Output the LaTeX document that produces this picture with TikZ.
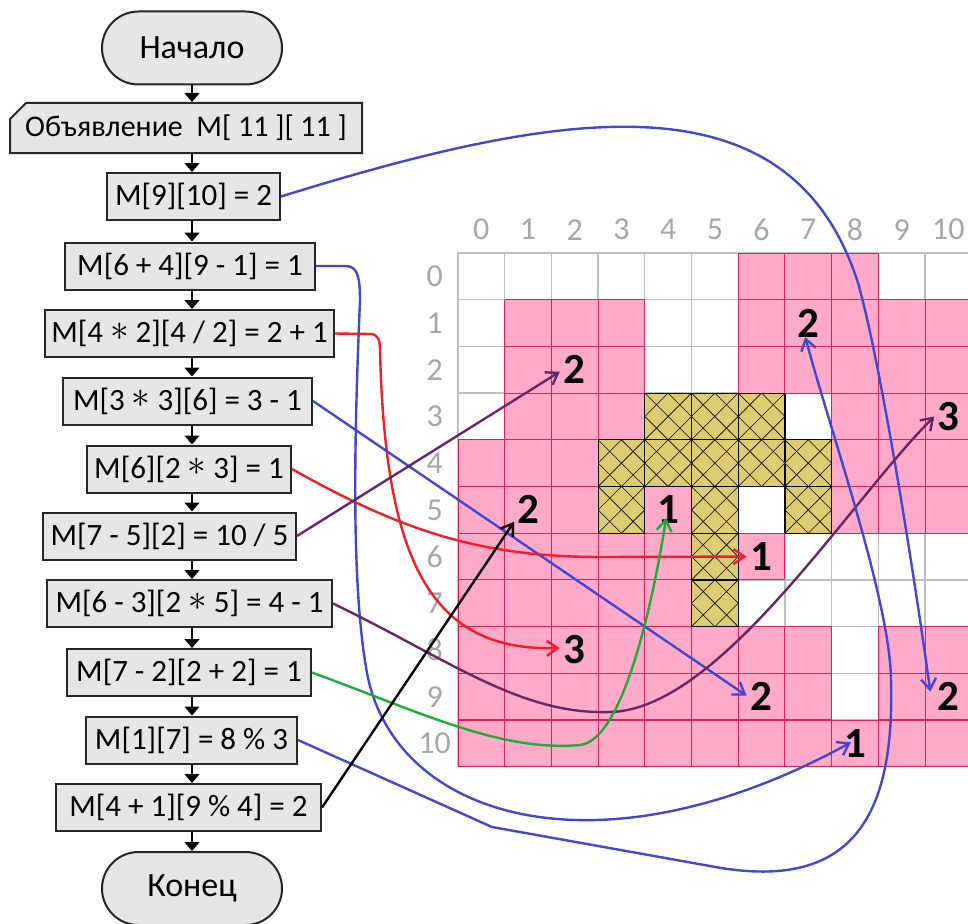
\documentclass[tikz,border=0pt]{standalone}
\usepackage{fontspec}
\setmainfont{Carlito}
\usetikzlibrary{arrows.meta,shapes.misc,calc}

\definecolor{boxgray}{HTML}{E6E6E6}
\definecolor{cellpink}{HTML}{FFAAC8}
\definecolor{linepink}{HTML}{D2245C}
\definecolor{cellyellow}{HTML}{DECC70}
\definecolor{linegray}{HTML}{BFBFBF}
\definecolor{labelgray}{HTML}{A6A6A6}
\definecolor{arrblue}{HTML}{4048CC}
\definecolor{arrred}{HTML}{F01E28}
\definecolor{arrpurple}{HTML}{642864}
\definecolor{arrgreen}{HTML}{1EAA3C}

\newcommand{\mul}{\raisebox{0.15ex}{\scalebox{1.5}{$\ast$}}}

\tikzset{
  stmt/.style={draw=black!85, line width=2pt, fill=boxgray, minimum height=47pt,
    inner sep=0pt, font=\fontsize{31}{37}\selectfont},
  term/.style={stmt, rounded rectangle, minimum width=180pt, minimum height=73pt,
    font=\fontsize{34}{40}\selectfont},
  declbox/.style={stmt, chamfered rectangle, chamfered rectangle corners=north west,
    chamfered rectangle angle=45, chamfered rectangle xsep=15pt},
  flow/.style={line width=1.6pt, -{Triangle[width=15pt,length=9pt]}},
  link/.style={line width=2.4pt, -{Straight Barb[length=11pt,width=15pt]}},
  pinkgrid/.style={linepink, line width=1pt, step=1},
  celltext/.style={inner sep=0pt, font=\bfseries\fontsize{43}{50}\selectfont},
  axislabel/.style={inner sep=0pt, text=labelgray, font=\fontsize{32}{38}\selectfont}
}

\begin{document}
\begin{tikzpicture}[x=1pt,y=-1pt]
\useasboundingbox (0,0) rectangle (968,923);

% flowchart
\node[term] (begin) at (192,48) {Начало};
\node[declbox, minimum width=352pt, minimum height=50pt, font=\fontsize{30}{36}\selectfont] (decl) at (186,128) {Объявление\ \ M[~11~][~11~]};
\node[stmt, minimum width=173pt] (set910) at (193.5,196.5) {M[9][10] = 2};
\node[stmt, minimum width=250pt] (set108) at (190,266) {M[6 + 4][9 - 1] = 1};
\node[stmt, minimum width=289pt] (set82) at (189.5,333.5) {M[4 \mul{} 2][4 / 2] = 2 + 1};
\node[stmt, minimum width=249pt] (set96) at (187.5,401) {M[3 \mul{} 3][6] = 3 - 1};
\node[stmt, minimum width=204pt] (set66) at (189,469) {M[6][2 \mul{} 3] = 1};
\node[stmt, minimum width=253pt] (set22) at (169.5,536) {M[7 - 5][2] = 10 / 5};
\node[stmt, minimum width=285pt] (set310) at (189.5,603.5) {M[6 - 3][2 \mul{} 5] = 4 - 1};
\node[stmt, minimum width=244pt] (set54) at (189,672.5) {M[7 - 2][2 + 2] = 1};
\node[stmt, minimum width=211pt] (set17) at (191.5,740) {M[1][7] = 8 \% 3};
\node[stmt, minimum width=265pt] (set51) at (188.5,807.5) {M[4 + 1][9 \% 4] = 2};
\node[term] (finish) at (192,888.5) {Конец};

\draw[flow] (begin.south) -- (decl.north -| begin);
\draw[flow] (decl.south -| begin) -- (set910.north -| begin);
\draw[flow] (set910.south -| begin) -- (set108.north -| begin);
\draw[flow] (set108.south -| begin) -- (set82.north -| begin);
\draw[flow] (set82.south -| begin) -- (set96.north -| begin);
\draw[flow] (set96.south -| begin) -- (set66.north -| begin);
\draw[flow] (set66.south -| begin) -- (set22.north -| begin);
\draw[flow] (set22.south -| begin) -- (set310.north -| begin);
\draw[flow] (set310.south -| begin) -- (set54.north -| begin);
\draw[flow] (set54.south -| begin) -- (set17.north -| begin);
\draw[flow] (set17.south -| begin) -- (set51.north -| begin);
\draw[flow] (set51.south -| begin) -- (finish.north);

% the array M
\begin{scope}[shift={(458pt,-253pt)}, x=46.7pt, y=46.7pt, yscale=-1]
\draw[linegray, line width=1.3pt, step=1] (0,0) grid (11,11);
\draw[linegray, line width=2.4pt] (0,11) -- (0,0) -- (11,0);

\fill[cellpink] (6,0) rectangle (9,1);
\draw[pinkgrid] (6,0) grid (9,1);
\fill[cellpink] (1,1) rectangle (4,4);
\draw[pinkgrid] (1,1) grid (4,4);
\fill[cellpink] (6,1) rectangle (11,3);
\draw[pinkgrid] (6,1) grid (11,3);
\fill[cellpink] (8,3) rectangle (11,6);
\draw[pinkgrid] (8,3) grid (11,6);
\fill[cellpink] (0,4) rectangle (3,6);
\draw[pinkgrid] (0,4) grid (3,6);
\fill[cellpink] (4,5) rectangle (5,6);
\draw[pinkgrid] (4,5) grid (5,6);
\fill[cellpink] (0,6) rectangle (5,8);
\draw[pinkgrid] (0,6) grid (5,8);
\fill[cellpink] (6,6) rectangle (7,7);
\draw[pinkgrid] (6,6) grid (7,7);
\fill[cellpink] (0,8) rectangle (8,10);
\draw[pinkgrid] (0,8) grid (8,10);
\fill[cellpink] (9,8) rectangle (11,10);
\draw[pinkgrid] (9,8) grid (11,10);
\fill[cellpink] (0,10) rectangle (11,11);
\draw[pinkgrid] (0,10) grid (11,11);

\begin{scope}
\clip (4,3) rectangle (7,4) (3,4) rectangle (8,5) (3,5) rectangle (4,6)
      (5,5) rectangle (6,8) (7,5) rectangle (8,6);
\fill[cellyellow] (3,3) rectangle (8,8);
\foreach \d in {-5,-4.5,...,5} \draw[line width=0.6pt] (\d,0) -- ++(11,11);
\foreach \d in {6,6.5,...,16} \draw[line width=0.6pt] (\d,0) -- ++(-11,11);
\end{scope}
\draw[line width=1.2pt, step=1] (4,3) grid (7,4);
\draw[line width=1.2pt, step=1] (3,4) grid (8,5);
\draw[line width=1.2pt, step=1] (3,5) grid (4,6);
\draw[line width=1.2pt, step=1] (5,5) grid (6,8);
\draw[line width=1.2pt, step=1] (7,5) grid (8,6);

\foreach \c in {0,...,10} \node[axislabel] (col\c) at (\c+0.5,-0.5) {\c};
\foreach \r in {0,...,10} \node[axislabel] (row\r) at (-0.5,\r+0.5) {\r};

\node[celltext] (cell1x7) at (7.5,1.5) {2};
\node[celltext] (cell2x2) at (2.5,2.5) {2};
\node[celltext] (cell3x10) at (10.5,3.5) {3};
\node[celltext] (cell5x1) at (1.5,5.5) {2};
\node[celltext] (cell5x4) at (4.5,5.5) {1};
\node[celltext] (cell6x6) at (6.5,6.5) {1};
\node[celltext] (cell8x2) at (2.5,8.5) {3};
\node[celltext] (cell9x6) at (6.5,9.5) {2};
\node[celltext] (cell9x10) at (10.5,9.5) {2};
\node[celltext] (cell10x8) at (8.5,10.5) {1};
\end{scope}

% assignments
\draw[link, arrblue] (set910.east) .. controls (560,110) and (790,70) .. (858,283)
  .. controls (880,360) and (912,560) .. ($(cell9x10)+(-18,-5)$);
\draw[link, arrblue] (set108.east) -- (345,266) .. controls (357,266) and (360,275) .. (360,300)
  .. controls (355,420) and (350,580) .. (367,673)
  .. controls (395,820) and (600,880) .. ($(cell10x8)+(-4,-1)$);
\draw[link, arrred] (set82.east) -- (370,334) .. controls (378,334) and (380,340) .. (380,350)
  .. controls (385,560) and (430,652) .. ($(cell8x2)+(-15,-2)$);
\draw[link, arrblue] (set96.east) -- ($(cell9x6)+(-15,-1)$);
\draw[link, arrred] (set66.east) .. controls (400,530) and (480,557) .. (600,557)
  -- ($(cell6x6)+(-15,0)$);
\draw[link, arrpurple] (set22.east) -- ($(cell2x2)+(-15,2)$);
\draw[link, arrpurple] (set310.east) .. controls (450,660) and (520,715) .. (610,712)
  .. controls (720,710) and (850,500) .. ($(cell3x10)+(-14,0)$);
\draw[link, arrgreen] (set54.east) .. controls (420,712) and (500,752) .. (580,745)
  .. controls (620,741) and (650,620) .. ($(cell5x4)+(-2,8)$);
\draw[link, arrblue] (set17.east) -- (492,827) -- (710,866)
  .. controls (850,893) and (895,820) .. (891,680)
  .. controls (890,600) and (830,430) .. ($(cell1x7)+(-3,14)$);
\draw[link, black] (set51.east) -- ($(cell5x1)+(-14,12)$);
\end{tikzpicture}
\end{document}
